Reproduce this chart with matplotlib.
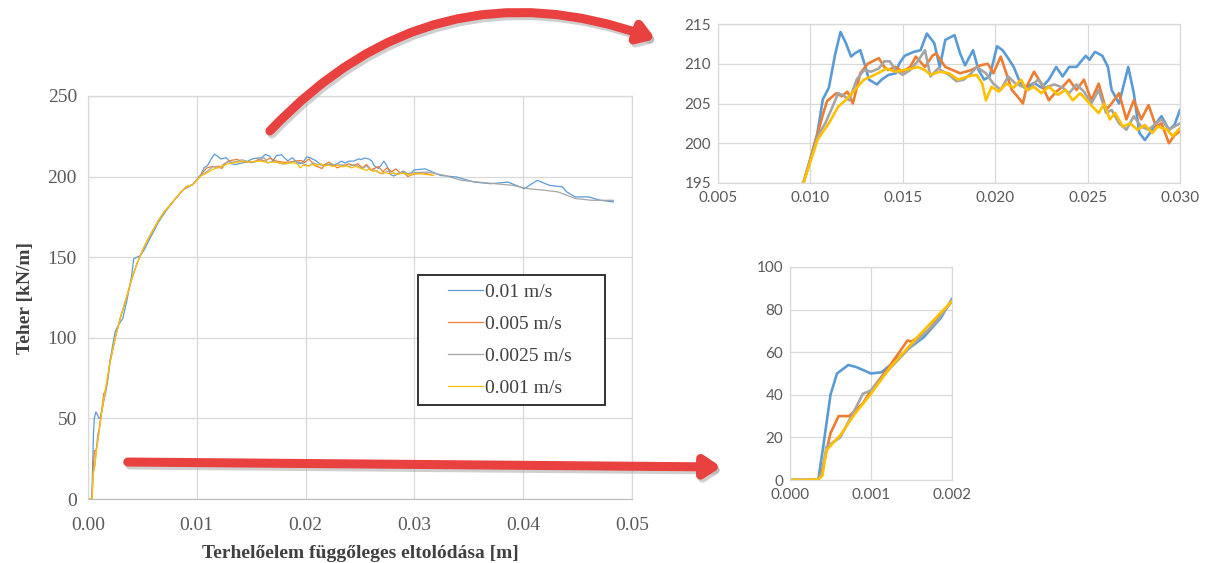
import matplotlib
matplotlib.use("Agg")
import matplotlib.pyplot as plt
from matplotlib.patches import FancyArrowPatch, Rectangle

# ---------------- data ----------------
series_labels = ["0.01 m/s", "0.005 m/s", "0.0025 m/s", "0.001 m/s"]
series_colors = ["#5b9bd5", "#ed7d31", "#a5a5a5", "#ffc000"]

# rising branch shared part (0.002 .. 0.0096 m)
x_rise = [0.0020, 0.0025, 0.0030, 0.0035, 0.0040, 0.0045, 0.0050, 0.0055, 0.0060,
          0.0065, 0.0070, 0.0075, 0.0080, 0.0085, 0.0090, 0.00962]
y_rise = [85, 100, 113, 124, 136, 146, 154, 161, 167, 173, 178, 182, 186, 190, 193.5, 195]

# ---- 0.01 m/s (blue)
x_blue = [0.0, 0.0002, 0.00035, 0.00041, 0.0005, 0.00058, 0.00072, 0.00082, 0.0010, 0.00113,
          0.00124, 0.00144, 0.00165, 0.00186, 0.0020, 0.0025, 0.0028, 0.0032, 0.0036, 0.0040,
          0.0042, 0.0048, 0.0052, 0.0058, 0.0065, 0.0072, 0.0080, 0.0088,
          0.00962, 0.0100, 0.01038, 0.01067, 0.0110, 0.01135, 0.01163, 0.01192, 0.0122, 0.0124,
          0.0127, 0.01298, 0.01317, 0.0136, 0.01385, 0.01423, 0.01462, 0.0148, 0.0151, 0.0156,
          0.01596, 0.0163, 0.0167, 0.0170, 0.0173, 0.0178, 0.0181, 0.01837, 0.0188, 0.0191,
          0.0194, 0.0197, 0.0201, 0.0204, 0.0207, 0.0210, 0.02135, 0.0217, 0.0221, 0.0225,
          0.0229, 0.0233, 0.02365, 0.0240, 0.0244, 0.0249, 0.0251, 0.0254, 0.0258, 0.0261,
          0.0263, 0.0267, 0.0272, 0.0275, 0.0278, 0.0281, 0.0285, 0.0287, 0.0290, 0.0294,
          0.0297, 0.0300, 0.0310, 0.0324, 0.0339, 0.0355, 0.0370, 0.0386, 0.0401, 0.0413,
          0.0424, 0.0436, 0.0440, 0.0448, 0.0460, 0.0471, 0.0483]
y_blue = [0.0, 0.0, 0.3, 15.6, 40, 50, 54, 53, 50, 50.6,
          54, 61, 67, 76, 85, 104, 108, 112, 124, 138,
          149, 151, 155, 163, 172, 179, 186, 192,
          195, 198, 201.3, 205.5, 207, 211.3, 214, 212.6, 210.9, 211.3,
          211.7, 209.6, 208, 207.4, 208, 208.6, 208.8, 210, 211, 211.5,
          211.7, 213.8, 212.6, 209.6, 213, 213.6, 211.3, 209.8, 211.7, 209.2,
          208, 208.4, 212.2, 211.7, 210.7, 209.6, 207.6, 207, 207.6, 207,
          208, 209.6, 208.4, 209.6, 209.6, 211, 210.5, 211.5, 211, 209.6,
          206.7, 205, 209.6, 206.3, 201.3, 200.4, 201.7, 202.5, 203.4, 201.7,
          202.3, 204.2, 204.8, 200.7, 199.7, 196.6, 195.6, 196.6, 192.5, 197.7,
          194.6, 193.6, 190.5, 187.4, 187.4, 185.3, 184.3]

# ---- 0.005 m/s (orange)
x_orange = [0.0, 0.0002, 0.00035, 0.0004, 0.0005, 0.0006, 0.00073, 0.0009, 0.0010, 0.0012,
            0.00135, 0.00145, 0.0015, 0.0017, 0.0020] + x_rise[1:] + [
            0.0104, 0.0107, 0.0109, 0.0114, 0.0117, 0.0120, 0.0123, 0.0127, 0.0131, 0.0137,
            0.0140, 0.0142, 0.0146, 0.0150, 0.0154, 0.0157, 0.0162, 0.0166, 0.0168, 0.0173,
            0.0177, 0.0181, 0.0187, 0.0192, 0.0196, 0.0199, 0.0203, 0.0206, 0.0209, 0.0212,
            0.0215, 0.0217, 0.0221, 0.0225, 0.0229, 0.0233, 0.02365, 0.0240, 0.0244, 0.0248,
            0.0252, 0.0256, 0.0260, 0.0263, 0.0267, 0.0271, 0.0275, 0.0279, 0.0283, 0.0287,
            0.0290, 0.0294, 0.0297, 0.0300, 0.0308, 0.0316]
y_orange = [0.0, 0.0, 0.3, 5, 22, 30, 30, 36, 42, 52,
            60, 65.5, 65, 70, 84] + y_rise[1:] + [
            201.3, 203.8, 205.3, 206.3, 205.9, 206.5, 205, 208.8, 210, 210.7,
            209.6, 209.2, 209.6, 209, 209.6, 210.9, 209.6, 211, 211.3, 209.6,
            209.2, 208.8, 209.2, 209.8, 210, 208.8, 210.9, 208.8, 206.7, 205.9,
            205, 207.1, 209, 207.5, 205.4, 206.5, 207.1, 208, 206.7, 208,
            205.4, 207.5, 204.2, 205, 206.3, 203, 205.4, 203, 204.8, 202.1,
            202.5, 200, 201, 201.5, 202.5, 201]

# ---- 0.0025 m/s (gray)
x_gray = [0.0, 0.0002, 0.00035, 0.0004, 0.00045, 0.00062, 0.0008, 0.0009, 0.0010, 0.0012,
          0.0015, 0.0018, 0.0020] + x_rise[1:] + [
          0.0104, 0.0108, 0.0112, 0.0115, 0.0118, 0.0121, 0.0125, 0.0129, 0.0133, 0.0137,
          0.0140, 0.0143, 0.0146, 0.0150, 0.0154, 0.0158, 0.0162, 0.0165, 0.0169, 0.0175,
          0.0179, 0.0183, 0.0187, 0.0190, 0.0195, 0.0199, 0.0203, 0.0207, 0.0211, 0.0215,
          0.0218, 0.0223, 0.0227, 0.0232, 0.02365, 0.0240, 0.0244, 0.0248, 0.0252, 0.0256,
          0.0260, 0.0263, 0.0267, 0.0271, 0.0275, 0.0279, 0.0283, 0.0287, 0.0290, 0.0294,
          0.0300, 0.0312, 0.0328, 0.0343, 0.0359, 0.0374, 0.0390, 0.0405, 0.0420, 0.0432,
          0.0448, 0.0463, 0.0483]
y_gray = [0.0, 0.0, 0.3, 4, 15.6, 20, 33, 40.5, 42, 51,
          63, 74, 84] + y_rise[1:] + [
          200.9, 202.5, 204.6, 206.3, 206, 205.4, 208, 209.2, 209, 209.4,
          210.3, 210.3, 209.2, 208.6, 209.2, 210.3, 211.7, 208.4, 209.4, 208.6,
          207.8, 208, 208.8, 209.6, 208.8, 207.5, 206.7, 208.4, 207.5, 207.1,
          206.7, 208, 207, 207.4, 207, 206.3, 207.4, 206.5, 205, 206.7,
          203.8, 204.2, 202.5, 201.7, 203.4, 202.1, 201.7, 202.5, 203, 201.7,
          202.5, 202.8, 200.7, 197.7, 196.6, 195.6, 194.6, 192.5, 191.5, 190.5,
          186.4, 185.3, 185.3]

# ---- 0.001 m/s (yellow)
x_yellow = [0.0, 0.0002, 0.00035, 0.0004, 0.00045, 0.00062, 0.0008, 0.0010, 0.00124,
            0.00157, 0.0020] + x_rise[1:] + [
            0.0104, 0.0110, 0.0115, 0.0119, 0.0124, 0.0129, 0.0133, 0.0138, 0.0141, 0.0146,
            0.0150, 0.0155, 0.0158, 0.0162, 0.0165, 0.0170, 0.0175, 0.0180, 0.0185, 0.0190,
            0.0193, 0.0195, 0.0198, 0.0202, 0.0206, 0.0210, 0.0214, 0.0217, 0.0221, 0.0225,
            0.0229, 0.0234, 0.0238, 0.0242, 0.0246, 0.0251, 0.0256, 0.0259, 0.0262, 0.0265,
            0.0269, 0.0273, 0.0277, 0.0281, 0.0285, 0.0288, 0.0293, 0.0296, 0.0300, 0.0308,
            0.0318]
y_yellow = [0.0, 0.0, 0.3, 2, 14, 21, 31, 40.5, 53,
            67, 84] + y_rise[1:] + [
            200.5, 202.5, 204.6, 205.4, 206.7, 208, 208.4, 209, 209.4, 209,
            209.2, 209.4, 209.6, 209.2, 208.6, 209, 208.8, 208, 208.4, 208.6,
            207.5, 205.4, 207.1, 206.5, 207.5, 207, 208, 206.7, 207.1, 206.3,
            207.1, 206.1, 206.7, 205.4, 206.3, 205, 203.8, 205, 203, 203.8,
            202.1, 202.5, 201.7, 202.3, 201.3, 202.1, 201.7, 200.9, 201.9, 201.5,
            200.8]

all_x = [x_blue, x_orange, x_gray, x_yellow]
all_y = [y_blue, y_orange, y_gray, y_yellow]

main_xticks = [0.00, 0.01, 0.02, 0.03, 0.04, 0.05]
main_yticks = [0, 50, 100, 150, 200, 250]
top_xticks = [0.005, 0.010, 0.015, 0.020, 0.025, 0.030]
top_yticks = [195, 200, 205, 210, 215]
bot_xticks = [0.000, 0.001, 0.002]
bot_yticks = [0, 20, 40, 60, 80, 100]

# ---------------- figure ----------------
W, H = 1208, 563
fig = plt.figure(figsize=(W / 100, H / 100), dpi=100)
fig.patch.set_facecolor("white")


def px_rect(l, r, t, b):
    return [l / W, 1 - b / H, (r - l) / W, (b - t) / H]


def fp(x, y):
    return (x / W, 1 - y / H)


def style_axes(ax, grid_c="#d9d9d9", spine_c="#d9d9d9", bottom_c="#bfbfbf"):
    ax.grid(True, color=grid_c, lw=0.9)
    ax.set_axisbelow(True)
    for s in ax.spines.values():
        s.set_color(spine_c)
        s.set_linewidth(0.9)
    ax.spines["bottom"].set_color(bottom_c)
    ax.tick_params(length=0, colors="#595959")


serif = ["Liberation Serif", "DejaVu Serif"]
sans = ["Lato", "DejaVu Sans"]

# ---- main axes
ax = fig.add_axes(px_rect(88, 632, 96, 499))
for xs, ys, c, lab in zip(all_x, all_y, series_colors, series_labels):
    ax.plot(xs, ys, color=c, lw=0.9, label=lab)
ax.set_xlim(0, 0.05)
ax.set_ylim(0, 250)
ax.set_xticks(main_xticks)
ax.set_xticklabels([f"{v:.2f}" for v in main_xticks], family=serif, fontsize=14)
ax.set_yticks(main_yticks)
ax.set_yticklabels([str(v) for v in main_yticks], family=serif, fontsize=14)
ax.tick_params(axis="x", pad=13)
ax.tick_params(axis="y", pad=8)
style_axes(ax)
ax.set_xlabel("Terhelőelem függőleges eltolódása [m]", family=serif, fontsize=14,
              fontweight="bold", color="#404040", labelpad=8)
ax.set_ylabel("Teher [kN/m]", family=serif, fontsize=14, fontweight="bold",
              color="#404040", labelpad=10)

# legend box (white, dark border) drawn inside the main axes, under the legend entries
box = Rectangle(fp(418, 405), (605 - 418) / W, (405 - 275) / H, transform=fig.transFigure,
                facecolor="white", edgecolor="#333333", lw=1.4, zorder=4, clip_on=False)
ax.add_patch(box)
leg = ax.legend(loc="upper left", bbox_to_anchor=fp(448, 283),
                bbox_transform=fig.transFigure, prop={"family": serif, "size": 14},
                frameon=False, handlelength=1.8, handletextpad=0.1,
                labelspacing=0.74, borderpad=0.0, borderaxespad=0)
leg.set_zorder(6)
for t in leg.get_texts():
    t.set_color("#404040")

# ---- top inset
axt = fig.add_axes(px_rect(718, 1180, 24, 183))
for xs, ys, c in zip(all_x, all_y, series_colors):
    axt.plot(xs, ys, color=c, lw=1.9)
axt.set_xlim(0.005, 0.030)
axt.set_ylim(195, 215)
axt.set_xticks(top_xticks)
axt.set_xticklabels([f"{v:.3f}" for v in top_xticks], family=sans, fontsize=11)
axt.set_yticks(top_yticks)
axt.set_yticklabels([str(v) for v in top_yticks], family=sans, fontsize=11)
axt.tick_params(axis="x", pad=6)
axt.tick_params(axis="y", pad=5)
style_axes(axt, bottom_c="#d9d9d9")

# ---- bottom inset
axb = fig.add_axes(px_rect(790, 952, 267, 480))
for xs, ys, c in zip(all_x, all_y, series_colors):
    axb.plot(xs, ys, color=c, lw=1.9)
axb.set_xlim(0.0, 0.002)
axb.set_ylim(0, 100)
axb.set_xticks(bot_xticks)
axb.set_xticklabels([f"{v:.3f}" for v in bot_xticks], family=sans, fontsize=11)
axb.set_yticks(bot_yticks)
axb.set_yticklabels([str(v) for v in bot_yticks], family=sans, fontsize=11)
axb.tick_params(axis="x", pad=6)
axb.tick_params(axis="y", pad=5)
style_axes(axb, bottom_c="#d9d9d9")

# ---- red arrows
arrow_c = "#e8413f"
shadow_c = "#b0b0b0"
for dx, dy, col, z in [(2, 3, shadow_c, 8), (0, 0, arrow_c, 9)]:
    a1 = FancyArrowPatch(fp(268 + dx, 133 + dy), fp(658 + dx, 40 + dy),
                         transform=fig.transFigure, connectionstyle="arc3,rad=-0.33",
                         arrowstyle="-|>,head_length=9,head_width=6", lw=6.5,
                         color=col, alpha=0.6 if col == shadow_c else 1.0,
                         capstyle="round", zorder=z)
    fig.patches.append(a1)
    a2 = FancyArrowPatch(fp(125 + dx, 462 + dy), fp(724 + dx, 467 + dy),
                         transform=fig.transFigure,
                         arrowstyle="-|>,head_length=9,head_width=6", lw=6.5,
                         color=col, alpha=0.6 if col == shadow_c else 1.0,
                         capstyle="round", zorder=z)
    fig.patches.append(a2)

fig.savefig("out.png", dpi=100, facecolor="white")
